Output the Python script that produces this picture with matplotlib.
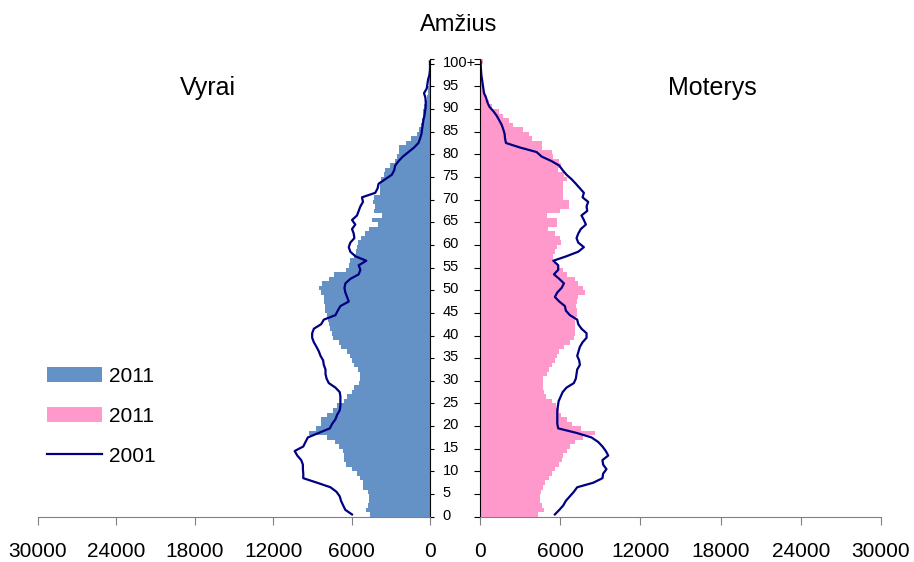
import numpy as np
import matplotlib
matplotlib.use('Agg')
import matplotlib.pyplot as plt
from matplotlib.patches import Patch
from matplotlib.lines import Line2D

plt.rcParams['font.family'] = ['Liberation Sans', 'DejaVu Sans']

# ages 0..100+ (one value per year)
ages = np.arange(101)
age_labels = [str(a) for a in range(0, 100, 5)] + ['100+']

men_2011 = [4570, 4880, 4780, 4700, 4700, 4780, 5130, 5130, 5330, 5590,
            5970, 6400, 6550, 6600, 6650, 6990, 7300, 7870, 9270, 8760,
            8380, 8330, 7870, 7440, 7110, 6600, 6350, 5970, 5840, 5460,
            5330, 5380, 5540, 5840, 5970, 6100, 6350, 6780, 6990, 7420,
            7490, 7620, 7750, 7800, 7870, 8000, 8050, 8080, 8130, 8330,
            8510, 8255, 7750, 7320, 6400, 6220, 6100, 5790, 5640, 5590,
            5540, 5300, 5000, 4700, 3950, 4450, 3700, 4300, 4250, 4370,
            4320, 3860, 3810, 3810, 3760, 3500, 3430, 3050, 2670, 2540,
            2410, 2410, 1830, 1470, 1020, 810, 710, 635, 560, 510,
            430, 355, 255, 180, 130, 100, 70, 50, 30, 20, 40]

women_2011 = [4360, 4780, 4610, 4480, 4480, 4530, 4730, 4860, 5180, 5350,
              5600, 5930, 6100, 6230, 6520, 6720, 7100, 7670, 8590, 7520,
              6850, 6520, 6030, 5930, 5680, 5350, 4930, 4780, 4680, 4680,
              4680, 5030, 5180, 5350, 5600, 5780, 5930, 6270, 6720, 7020,
              7100, 7100, 7100, 7100, 7270, 7220, 7170, 7220, 7350, 7840,
              7670, 7350, 7100, 6470, 6180, 5850, 5430, 5480, 5600, 5780,
              6030, 5980, 5600, 5100, 5780, 5780, 4980, 5980, 6620, 6620,
              6180, 6180, 6180, 6180, 6520, 6270, 5850, 6030, 5930, 5430,
              5350, 4610, 4610, 3860, 3690, 3240, 2490, 2190, 1690, 1440,
              870, 700, 500, 370, 250, 200, 150, 125, 125, 125, 200]

men_2001 = [5970, 6480, 6650, 6810, 6910, 7160, 7620, 8640, 9700, 9700,
            9730, 9730, 9860, 10160, 10360, 9700, 9530, 9350, 8510, 7670,
            7490, 7240, 7110, 6910, 6860, 6860, 6860, 6910, 7240, 7750,
            7920, 8000, 8000, 8130, 8180, 8380, 8510, 8690, 8890, 9020,
            9020, 8890, 8330, 8130, 7240, 7060, 6860, 6220, 6350, 6480,
            6550, 6480, 6100, 5460, 5330, 5460, 4880, 5720, 6100, 6220,
            6100, 5790, 5840, 5970, 5720, 5970, 5590, 5460, 5330, 5130,
            5210, 4190, 4010, 3940, 3430, 2920, 2740, 2670, 2410, 2080,
            1650, 1220, 890, 760, 660, 610, 560, 510, 430, 380,
            330, 330, 355, 460, 255, 200, 150, 50, 10, 0, 10]

women_2001 = [5600, 5930, 6230, 6420, 6720, 7020, 7270, 8470, 9160, 9210,
              9460, 9210, 9160, 9590, 9410, 9160, 8840, 8340, 7220, 5850,
              5780, 5780, 5780, 5780, 5830, 5880, 6030, 6180, 6470, 7020,
              7170, 7220, 7270, 7470, 7420, 7270, 7370, 7470, 7670, 7970,
              7970, 7590, 7350, 7270, 6720, 6420, 6350, 5930, 5600, 5780,
              6100, 6280, 5930, 5530, 5850, 5850, 5480, 6470, 7350, 7770,
              7350, 7220, 7350, 7540, 7920, 7770, 7590, 8020, 7970, 8090,
              7670, 7770, 7470, 7170, 6850, 6470, 6180, 5930, 5350, 4610,
              4230, 2990, 1940, 1870, 1840, 1740, 1620, 1440, 1250, 1000,
              700, 550, 450, 300, 250, 200, 150, 100, 75, 50, 50]

x_ticks = [0, 6000, 12000, 18000, 24000, 30000]

blue = '#6592C6'
pink = '#FF99CC'
navy = '#000080'
grey = '#808080'

fig = plt.figure(figsize=(9.14, 5.62), dpi=100)
axL = fig.add_axes([0.0416, 0.0806, 0.4289, 0.8141])
axR = fig.add_axes([0.5252, 0.0806, 0.4387, 0.8141])

# men, reversed x
axL.barh(ages, men_2011, height=1.0, color=blue, linewidth=0, antialiased=False)
axL.plot(men_2001, ages, color=navy, lw=1.6)
axL.set_xlim(30000, 0)

# women
axR.barh(ages, women_2011, height=1.0, color=pink, linewidth=0, antialiased=False)
axR.plot(women_2001, ages, color=navy, lw=1.6)
axR.set_xlim(0, 30000)

bounds = [-0.5] + [b - 0.5 for b in range(5, 101, 5)] + [100.5]
for ax in (axL, axR):
    ax.set_ylim(-0.5, 100.5)
    ax.set_xticks(x_ticks)
    ax.set_xticklabels([str(t) for t in x_ticks], fontsize=15)
    ax.tick_params(axis='x', direction='out', length=6, color=grey, pad=12)
    ax.spines['top'].set_visible(False)
    ax.spines['bottom'].set_color(grey)
    ax.set_yticks(bounds)
    ax.set_yticklabels([])

axL.spines['left'].set_visible(False)
axL.spines['right'].set_color('black')
axL.yaxis.tick_right()
axL.tick_params(axis='y', which='major', direction='out', length=3, color='black')
axL.set_yticks(list(range(0, 101, 5)), minor=True)
axL.set_yticklabels(age_labels, minor=True, fontsize=10.5)
axL.tick_params(axis='y', which='minor', length=0, pad=9)

axR.spines['right'].set_visible(False)
axR.spines['left'].set_color('black')
axR.tick_params(axis='y', which='major', direction='out', length=4, color='black')

fig.text(0.502, 0.956, 'Amžius', ha='center', va='center', fontsize=17)
fig.text(0.227, 0.843, 'Vyrai', ha='center', va='center', fontsize=18)
fig.text(0.779, 0.843, 'Moterys', ha='center', va='center', fontsize=18)

handles = [Patch(color=blue, lw=0), Patch(color=pink, lw=0), Line2D([], [], color=navy, lw=1.6)]
fig.legend(handles, ['2011', '2011', '2001'], loc='upper left', bbox_to_anchor=(0.0515, 0.347),
           frameon=False, fontsize=15, handlelength=2.64, handleheight=0.71,
           handletextpad=0.32, labelspacing=1.0, borderaxespad=0, borderpad=0)

plt.savefig('out.png', dpi=100)
